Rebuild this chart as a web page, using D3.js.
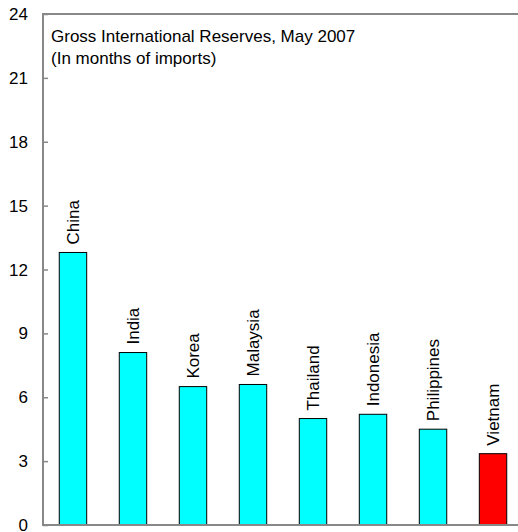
<!DOCTYPE html>
<html>
<head>
<meta charset="utf-8">
<script src="https://cdn.jsdelivr.net/npm/d3@7"></script>
<style>
  html, body { margin: 0; padding: 0; background: #fff; }
  svg { display: block; font-family: Arial, "Liberation Sans", sans-serif; }
</style>
</head>
<body>
<div id="chart"></div>
<script>
const countries = ['China', 'India', 'Korea', 'Malaysia', 'Thailand', 'Indonesia', 'Philippines', 'Vietnam']
const reserves = [12.8, 8.1, 6.5, 6.6, 5.0, 5.2, 4.5, 3.35]
const highlight = ['Vietnam']
const yTicks = [0, 3, 6, 9, 12, 15, 18, 21, 24]
const titleLines = ['Gross International Reserves, May 2007', '(In months of imports)']

const width = 518
const height = 532
const margin = { top: 14, left: 43 }
const plotW = 480
const plotH = 511

const svg = d3.select('#chart')
  .append('svg')
  .attr('width', width)
  .attr('height', height)

const g = svg.append('g')
  .attr('transform', `translate(${margin.left},${margin.top})`)

const x = d3.scaleBand()
  .domain(countries)
  .range([0, plotW])
  .paddingInner(0.543)
  .paddingOuter(0.271)

const y = d3.scaleLinear()
  .domain([0, 24])
  .range([plotH, 0])

// top frame line
g.append('line')
  .attr('x1', 0).attr('x2', plotW)
  .attr('y1', 0).attr('y2', 0)
  .attr('stroke', '#888').attr('stroke-width', 2)

// y axis with inside ticks
const yAxis = g.append('g')
  .call(d3.axisRight(y).tickValues(yTicks).tickSize(5).tickFormat(''))
yAxis.select('.domain').remove()
yAxis.selectAll('line').attr('stroke', '#888').attr('stroke-width', 1.5)

g.selectAll('.ylabel')
  .data(yTicks)
  .join('text')
  .attr('class', 'ylabel')
  .attr('x', -15)
  .attr('y', d => y(d))
  .attr('dy', '0.36em')
  .attr('text-anchor', 'end')
  .attr('font-size', 17)
  .attr('fill', '#000')
  .text(d => d)

// bars
g.selectAll('.bar')
  .data(countries)
  .join('rect')
  .attr('class', 'bar')
  .attr('x', d => x(d))
  .attr('y', (d, i) => y(reserves[i]))
  .attr('width', x.bandwidth())
  .attr('height', (d, i) => plotH - y(reserves[i]))
  .attr('fill', d => highlight.includes(d) ? '#ff0000' : '#00ffff')
  .attr('stroke', '#000')
  .attr('stroke-width', 1)

// rotated bar labels
g.selectAll('.blabel')
  .data(countries)
  .join('text')
  .attr('class', 'blabel')
  .attr('transform', (d, i) => `translate(${x(d) + x.bandwidth() / 2 + 6},${y(reserves[i]) - 8}) rotate(-90)`)
  .attr('font-size', 17)
  .attr('fill', '#000')
  .text(d => d)

// left and bottom frame lines
g.append('line')
  .attr('x1', 0).attr('x2', 0)
  .attr('y1', -1).attr('y2', plotH + 1)
  .attr('stroke', '#888').attr('stroke-width', 2)
g.append('line')
  .attr('x1', 0).attr('x2', plotW)
  .attr('y1', plotH).attr('y2', plotH)
  .attr('stroke', '#888').attr('stroke-width', 2)

// title
g.append('text')
  .attr('y', 27.5)
  .attr('font-size', 17)
  .attr('fill', '#000')
  .selectAll('tspan')
  .data(titleLines)
  .join('tspan')
  .attr('x', 8)
  .attr('dy', (d, i) => i === 0 ? 0 : 22.5)
  .text(d => d)
</script>
</body>
</html>
